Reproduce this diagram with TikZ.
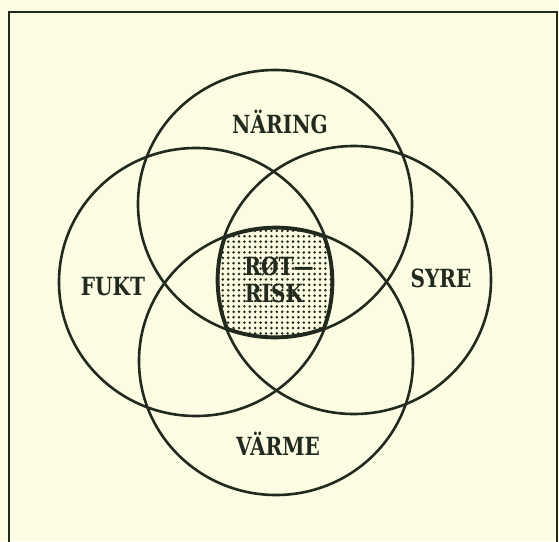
\documentclass[tikz,border=0pt]{standalone}
\usepackage{fontspec}
\setmainfont{DejaVu Serif}
\definecolor{paper}{RGB}{252,252,226}
\definecolor{ink}{RGB}{34,42,30}
\newcommand{\tallbox}[1]{\scalebox{0.98}[1.22]{#1}}
\begin{document}
\begin{tikzpicture}[x=1pt,y=-1pt,
  ring/.style={draw=ink,line width=2.6pt},
  lbl/.style={text=ink,font=\fontsize{20.5}{22}\selectfont\bfseries,inner sep=0pt}]
\useasboundingbox (0,0) rectangle (559,541);
\fill[paper] (0,0) rectangle (559,541);
% frame
\draw[ink,line width=2.4pt] (9,545) -- (9,12) -- (557,12) -- (557,545);
% centres
\coordinate (cT) at (275,204);
\coordinate (cB) at (276,361);
\coordinate (cL) at (196,282);
\coordinate (cR) at (354,280);
% dotted centre
\begin{scope}
  \clip (cT) ellipse [x radius=137pt, y radius=134pt];
  \clip (cB) ellipse [x radius=137pt, y radius=134pt];
  \clip (cL) ellipse [x radius=137pt, y radius=134pt];
  \clip (cR) ellipse [x radius=137pt, y radius=134pt];
  \foreach \i in {0,...,25}
    \foreach \j in {0,...,25}
      \fill[ink] (212+\i*5.4, 220+\j*5.4) circle[radius=1.4pt];
\end{scope}
\draw[ring] (cT) ellipse [x radius=137pt, y radius=134pt];
\draw[ring] (cB) ellipse [x radius=137pt, y radius=134pt];
\draw[ring] (cL) ellipse [x radius=137pt, y radius=134pt];
\draw[ring] (cR) ellipse [x radius=137pt, y radius=134pt];
% thicker outline of the shared centre
\begin{scope}
  \clip (cT) ellipse [x radius=137pt, y radius=134pt];
  \clip (cB) ellipse [x radius=137pt, y radius=134pt];
  \clip (cL) ellipse [x radius=137pt, y radius=134pt];
  \clip (cR) ellipse [x radius=137pt, y radius=134pt];
  \draw[ink,line width=5.2pt] (cT) ellipse [x radius=137pt, y radius=134pt];
  \draw[ink,line width=5.2pt] (cB) ellipse [x radius=137pt, y radius=134pt];
  \draw[ink,line width=5.2pt] (cL) ellipse [x radius=137pt, y radius=134pt];
  \draw[ink,line width=5.2pt] (cR) ellipse [x radius=137pt, y radius=134pt];
\end{scope}
% labels
\node[lbl] (naring) at (280,122) {\tallbox{NÄRING}};
\node[lbl] (fukt) at (113,287) {\tallbox{FUKT}};
\node[lbl] (syre) at (441,278) {\tallbox{SYRE}};
\node[lbl] (varme) at (278,444) {\tallbox{VÄRME}};
\node[lbl] (rot) at (279,266) {\tallbox{RØT—}};
\node[lbl] (risk) at (274,293) {\tallbox{RISK}};
\end{tikzpicture}
\end{document}
